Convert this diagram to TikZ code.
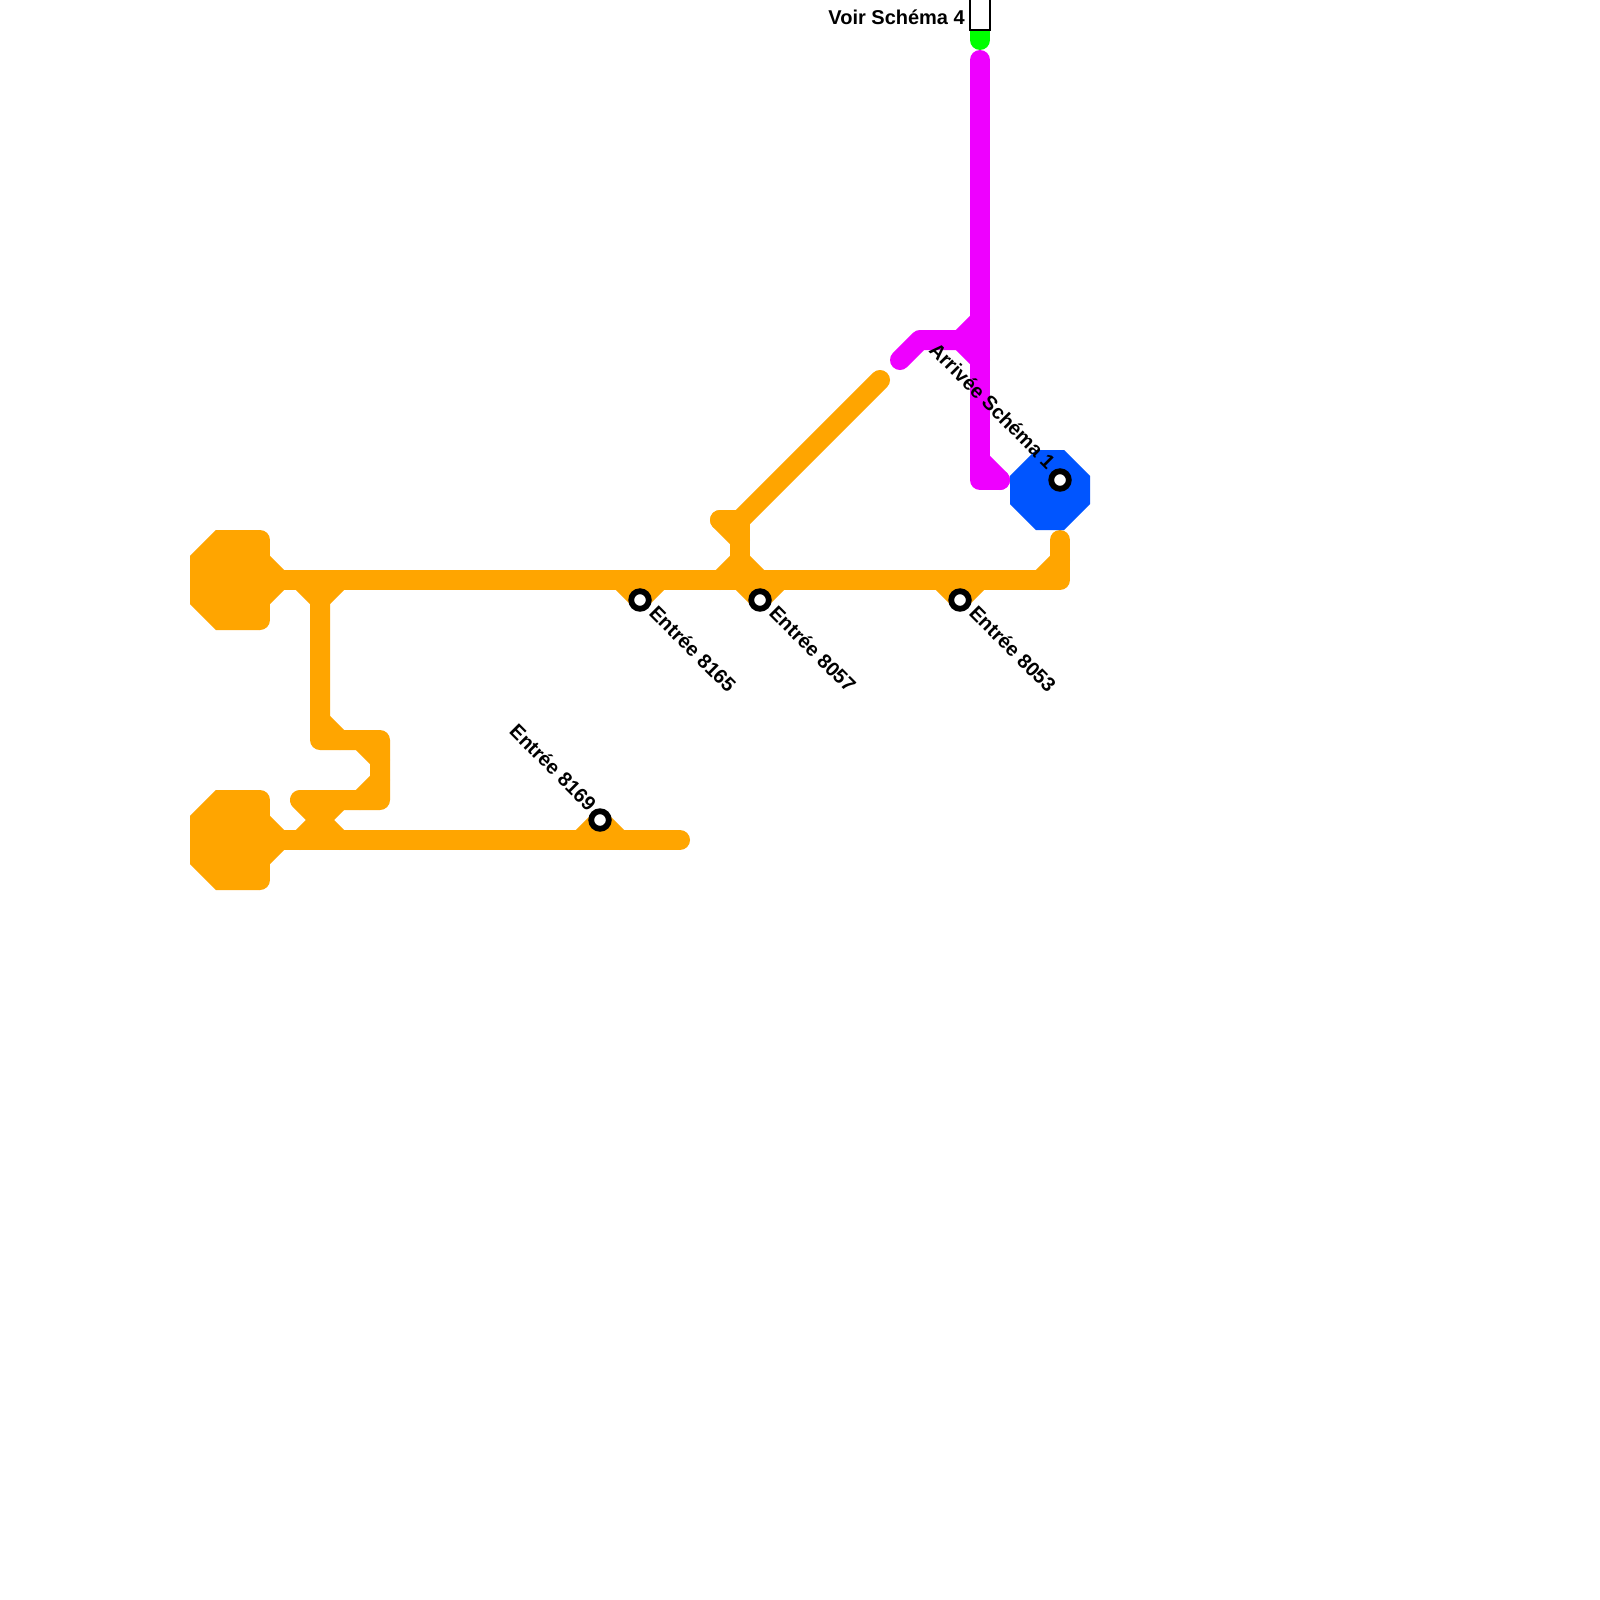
\documentclass[tikz,border=0pt]{standalone}
\usepackage{fontspec}
\setmainfont{Liberation Sans}
\tikzset{
  x=1pt,y=-1pt,
  track/.style={line width=20pt,line cap=round,line join=round},
  orangetrack/.style={track,draw=lineorange},
  hubedge/.style={line width=20pt,line cap=butt,line join=miter,draw=lineorange,fill=lineorange},
  magentatrack/.style={track,draw=linemagenta},
  bluetrack/.style={line width=20pt,line join=miter,draw=lineblue,fill=lineblue},
  greentrack/.style={track,draw=linegreen},
  stationmark/.style={circle,draw=black,fill=white,line width=5.8pt,minimum size=17.6pt,inner sep=0pt},
  stationlabel/.style={font=\fontsize{20}{24}\selectfont\bfseries,text=black,inner sep=0pt},
  portal/.style={draw=black,fill=white,line width=1.6pt}
}
\definecolor{lineorange}{HTML}{FFA500}
\definecolor{linemagenta}{HTML}{EE00FF}
\definecolor{lineblue}{HTML}{0055FF}
\definecolor{linegreen}{HTML}{00FF00}
\begin{document}
\begin{tikzpicture}
\useasboundingbox (0,0) rectangle (1600,1600);
\clip (0,0) rectangle (1600,1600);
\fill[white] (0,0) rectangle (1600,1600);
% named points
\coordinate (hubA) at (280,580);
\coordinate (hubB) at (280,840);
\coordinate (mainEnd) at (1060,580);
\coordinate (lowEnd) at (680,840);
\coordinate (branchTop) at (320,600);
\coordinate (branchKnee) at (320,740);
\coordinate (loopNE) at (380,740);
\coordinate (loopSE) at (380,800);
\coordinate (loopW) at (300,800);
\coordinate (loopJ) at (320,820);
\coordinate (xing) at (740,560);
\coordinate (xingTop) at (740,520);
\coordinate (xingW) at (720,520);
\coordinate (diagEnd) at (880,380);
\coordinate (eastTop) at (1060,540);
\coordinate (magTop) at (980,60);
\coordinate (magBot) at (980,480);
\coordinate (magFoot) at (1000,480);
\coordinate (magArm) at (960,340);
\coordinate (magElbow) at (920,340);
\coordinate (magTip) at (900,360);
\coordinate (greenEnd) at (980,40);
% hubs
\draw[hubedge] (260,540) -- (220,540) -- (200,560) -- (200,600) -- (220,620) -- (260,620);
\draw[orangetrack] (260,540) -- (260,620);
\draw[orangetrack] (260,560) -- (hubA) -- (260,600);
\draw[hubedge] (260,800) -- (220,800) -- (200,820) -- (200,860) -- (220,880) -- (260,880);
\draw[orangetrack] (260,800) -- (260,880);
\draw[orangetrack] (260,820) -- (hubB) -- (260,860);
% main lines
\draw[orangetrack] (hubA) -- (mainEnd) -- (eastTop);
\draw[orangetrack] (1040,580) -- (1060,560);
\draw[orangetrack] (hubB) -- (lowEnd);
% branch and loop
\draw[orangetrack] (300,580) -- (branchTop) -- (340,580);
\draw[orangetrack] (branchTop) -- (branchKnee) -- (loopNE) -- (loopSE) -- (loopW) -- (loopJ);
\draw[orangetrack] (320,720) -- (340,740);
\draw[orangetrack] (360,740) -- (380,760);
\draw[orangetrack] (380,780) -- (360,800);
\draw[orangetrack] (340,800) -- (loopJ);
\draw[orangetrack] (300,840) -- (loopJ) -- (340,840);
% crossing and diagonal
\draw[orangetrack] (xingW) -- (xingTop) -- (740,580);
\draw[orangetrack] (xingW) -- (740,540);
\draw[orangetrack] (720,580) -- (xing) -- (760,580);
\draw[orangetrack] (xingTop) -- (diagEnd);
% stub triangles under the stations
\coordinate (sA) at (640,600);
\coordinate (sB) at (760,600);
\coordinate (sC) at (960,600);
\coordinate (sD) at (600,820);
\coordinate (sE) at (1060,480);
\draw[orangetrack] (620,580) -- (sA) -- (660,580);
\draw[orangetrack] (740,580) -- (sB) -- (780,580);
\draw[orangetrack] (940,580) -- (sC) -- (980,580);
\draw[orangetrack] (580,840) -- (sD) -- (620,840);
% magenta
\draw[magentatrack] (magTop) -- (magBot) -- (magFoot);
\draw[magentatrack] (980,460) -- (magFoot);
\draw[magentatrack] (magTip) -- (magElbow) -- (magArm) -- (980,320);
\draw[magentatrack] (magArm) -- (980,360);
% green and portal
\draw[greentrack] (980,20) -- (greenEnd);
\node[portal,rectangle,minimum width=20pt,minimum height=40pt,inner sep=0pt,anchor=south] (portalbox) at (980,30.8) {};
\node[stationlabel,anchor=east] (portaltext) at (965,17.5) {Voir Schéma 4};
% blue
\draw[bluetrack] (1020,480) -- (1040,460) -- (1060,460) -- (1080,480) -- (1080,500) -- (1060,520) -- (1040,520) -- (1020,500) -- cycle;
% station marks
\node[stationmark] (stA) at (sA) {};
\node[stationmark] (stB) at (sB) {};
\node[stationmark] (stC) at (sC) {};
\node[stationmark] (stD) at (sD) {};
\node[stationmark] (stE) at (sE) {};
% labels
\node[stationlabel,anchor=west,rotate=-45] (lbA) at ([shift={(13,9)}]sA) {Entrée 8165};
\node[stationlabel,anchor=west,rotate=-45] (lbB) at ([shift={(13,9)}]sB) {Entrée 8057};
\node[stationlabel,anchor=west,rotate=-45] (lbC) at ([shift={(13,9)}]sC) {Entrée 8053};
\node[stationlabel,anchor=east,rotate=-45] (lbD) at ([shift={(-7,-13)}]sD) {Entrée 8169};
\node[stationlabel,anchor=east,rotate=-45] (lbE) at ([shift={(-8,-15)}]sE) {Arrivée Schéma 1};
\end{tikzpicture}
\end{document}
